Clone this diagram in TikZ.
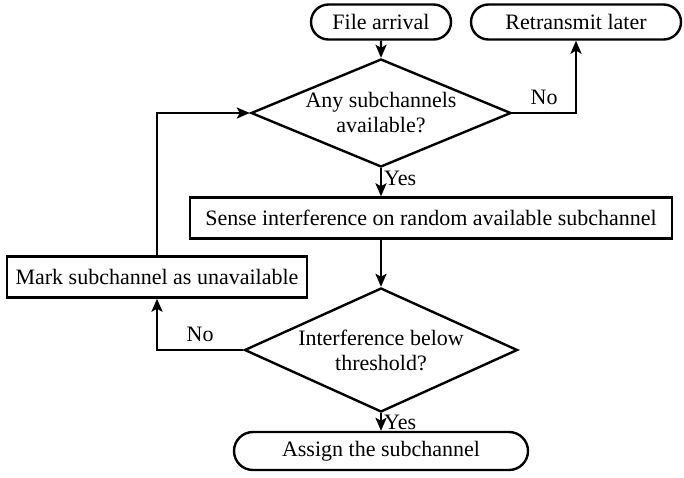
\documentclass[tikz,border=0pt]{standalone}
\usepackage{fontspec}
\setmainfont{Liberation Serif}
\usetikzlibrary{arrows.meta,shapes.geometric,shapes.misc}
\tikzset{
  every picture/.style={>={Stealth[length=6.5pt,width=5.5pt,inset=1.5pt]}, font=\fontsize{11}{12.5}\selectfont},
  term/.style={draw, line width=1.2pt, rounded rectangle, minimum height=17.5pt, inner sep=1pt},
  decision/.style={draw, line width=1.2pt, diamond, aspect=2.4, inner sep=0pt, align=center},
  proc/.style={draw, line width=1.2pt, rectangle, minimum height=20.5pt, inner sep=2pt},
  link/.style={->, line width=1.2pt},
}

\begin{document}
\begin{tikzpicture}[x=0.5pt,y=-0.5pt]
  \path[use as bounding box] (0,0) rectangle (684,477);
  % nodes
  \node[term, minimum width=72pt] (arrive) at (381,22) {File arrival};
  \node[term, minimum width=107pt] (retx) at (576,22) {Retransmit later};
  \node[decision, minimum width=130pt, minimum height=54pt] (anysub) at (381,113) {Any subchannels\\available?};
  \node[proc, minimum width=241pt] (sense) at (431,218) {Sense interference on random available subchannel};
  \node[proc, minimum width=150pt] (mark) at (157,277) {Mark subchannel as unavailable};
  \node[decision, minimum width=136.5pt, minimum height=62pt] (below) at (381,350) {Interference below\\threshold?};
  \node[term, minimum width=149pt, minimum height=19pt] (assign) at (381,451) {Assign the subchannel};
  % connectors
  \draw[link] (arrive) -- (anysub);
  \draw[link] (anysub.east) -| node[pos=0.25,above] {No} (retx.south);
  \draw[link] (anysub.south) -- node[pos=0.35,right,inner sep=1pt] {Yes} (anysub.south |- sense.north);
  \draw[link] (sense.south -| below.north) -- (below.north);
  \draw[link] (below.west) -| node[pos=0.25,above] {No} (mark.south);
  \draw[link] (mark.north) |- (anysub.west);
  \draw[link] (below.south) -- node[pos=0.55,right,inner sep=1pt] {Yes} (assign.north);
\end{tikzpicture}
\end{document}
